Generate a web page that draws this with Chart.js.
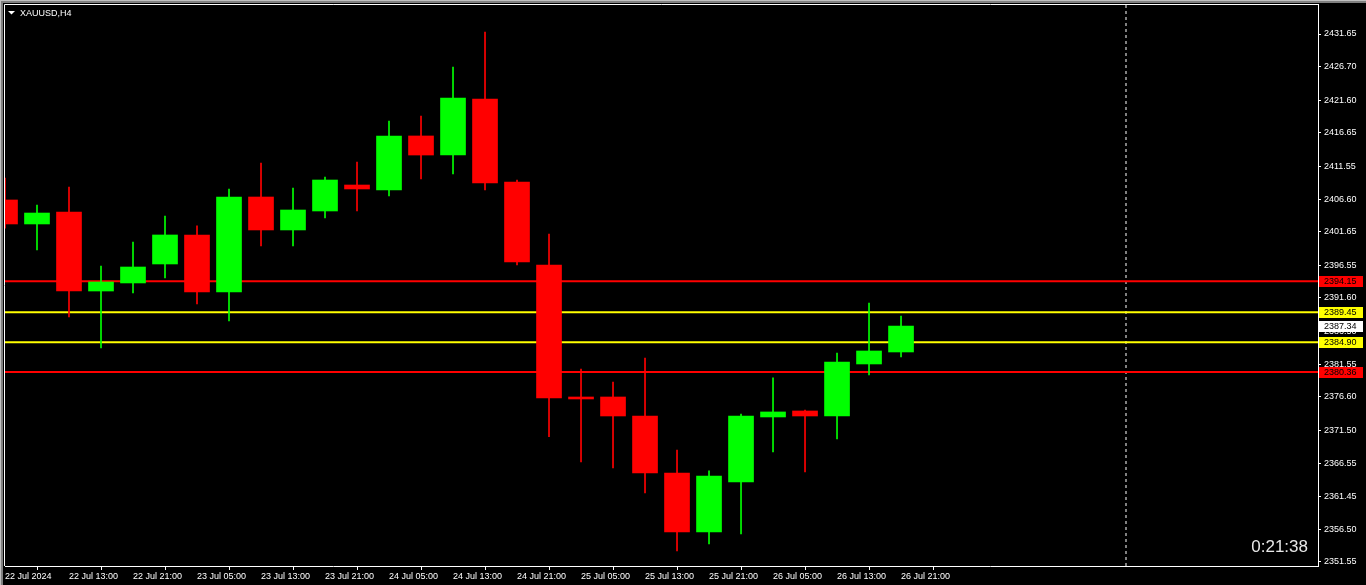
<!DOCTYPE html>
<html>
<head>
<meta charset="utf-8">
<script src="https://cdn.jsdelivr.net/npm/chart.js@4/dist/chart.umd.min.js"></script>
<style>
    html, body { margin: 0; padding: 0; background: #000; overflow: hidden; }
    canvas { display: block; }
</style>
</head>
<body>
<canvas id="grafico" width="1366" height="585"></canvas>
<script>
// =============================
// DADOS (XAUUSD H4)
// =============================

const abertura = [2406.47, 2402.83, 2404.65, 2392.66, 2393.88, 2396.76, 2401.16, 2392.51, 2406.92, 2401.92,
                  2404.80, 2408.74, 2407.99, 2416.18, 2413.29, 2421.79, 2409.20, 2396.61, 2376.58, 2376.58,
                  2373.70, 2365.05, 2356.10, 2363.69, 2373.55, 2374.46, 2373.70, 2381.59, 2383.41];
const maxima   = [2409.81, 2405.71, 2408.44, 2396.46, 2400.10, 2404.04, 2402.53, 2408.14, 2412.08, 2408.29,
                  2409.96, 2412.23, 2418.45, 2419.21, 2426.64, 2431.95, 2409.50, 2401.31, 2380.83, 2378.86,
                  2382.50, 2368.54, 2365.36, 2374.00, 2379.47, 2374.61, 2383.26, 2390.84, 2388.87];
const minima   = [2402.20, 2398.88, 2388.72, 2384.02, 2392.36, 2394.64, 2390.69, 2388.11, 2399.49, 2399.49,
                  2403.74, 2404.80, 2407.07, 2409.65, 2410.41, 2407.99, 2396.60, 2370.56, 2366.72, 2365.81,
                  2362.02, 2353.22, 2354.28, 2355.80, 2368.24, 2365.21, 2370.21, 2379.92, 2382.65];
const fechamento = [2402.83, 2404.49, 2392.66, 2394.03, 2396.30, 2401.16, 2392.51, 2406.92, 2401.92, 2404.95,
                  2409.50, 2408.14, 2416.18, 2413.29, 2421.94, 2409.05, 2397.06, 2376.43, 2376.28, 2373.70,
                  2365.05, 2356.10, 2364.60, 2373.70, 2374.31, 2373.70, 2381.89, 2383.56, 2387.34];

// rótulos do eixo de tempo (uma marca a cada 2 barras)
const rotulosTempo = ['22 Jul 2024', '22 Jul 13:00', '22 Jul 21:00', '23 Jul 05:00', '23 Jul 13:00',
                      '23 Jul 21:00', '24 Jul 05:00', '24 Jul 13:00', '24 Jul 21:00', '25 Jul 05:00',
                      '25 Jul 13:00', '25 Jul 21:00', '26 Jul 05:00', '26 Jul 13:00', '26 Jul 21:00'];
const posicoesTempo = [0, 2, 4, 6, 8, 10, 12, 14, 16, 18, 20, 22, 24, 26, 28];

// marcas do eixo de preço
const ticksPreco = [2431.65, 2426.70, 2421.60, 2416.65, 2411.55, 2406.60, 2401.65, 2396.55, 2391.60,
                    2386.50, 2381.55, 2376.60, 2371.50, 2366.55, 2361.45, 2356.50, 2351.55];

// níveis horizontais
const niveisVermelhos = [2394.15, 2380.36];
const niveisAmarelos  = [2389.45, 2384.90];
const precoAtual = 2387.34;
const linhaVertical = 35.03;

const Y_MIN = 2350.94;
const Y_MAX = 2436.05;
const X_MIN = 0;
const X_MAX = 41.03;

const VERDE = '#00ff00';
const VERMELHO = '#ff0000';
const AMARELO = '#ffff00';
const FONTE = "'Liberation Sans', Arial, sans-serif";


// =============================
// MONTAGEM DOS DATASETS
// =============================

const cores = abertura.map((o, i) => fechamento[i] >= o ? VERDE : VERMELHO);
const corpos = abertura.map((o, i) => ({ x: i, y: [o, fechamento[i]] }));
const pavios = minima.map((l, i) => ({ x: i, y: [l, maxima[i]] }));

function linhaHorizontal(valor, cor) {
    return {
        type: 'line',
        data: [{ x: X_MIN, y: valor }, { x: X_MAX, y: valor }],
        borderColor: cor,
        borderWidth: 2,
        pointRadius: 0,
        order: 5
    };
}

const datasets = [
    {
        type: 'bar',
        data: corpos,
        backgroundColor: cores,
        borderWidth: 0,
        barThickness: 25,
        grouped: false,
        order: 1
    },
    {
        type: 'bar',
        data: pavios,
        backgroundColor: cores,
        borderWidth: 0,
        barThickness: 1,
        grouped: false,
        order: 2
    },
    ...niveisVermelhos.map(v => linhaHorizontal(v, VERMELHO)),
    ...niveisAmarelos.map(v => linhaHorizontal(v, AMARELO)),
    {
        type: 'line',
        data: [{ x: linhaVertical, y: Y_MIN }, { x: linhaVertical, y: Y_MAX }],
        borderColor: '#ffffff',
        borderWidth: 1,
        borderDash: [3, 3],
        pointRadius: 0,
        order: 6
    }
];


// =============================
// PLUGIN: MOLDURA, TÍTULO, ETIQUETAS
// =============================

const etiquetas = [
    { valor: niveisVermelhos[0], fundo: VERMELHO },
    { valor: niveisAmarelos[0], fundo: AMARELO },
    { valor: precoAtual, fundo: '#ffffff' },
    { valor: niveisAmarelos[1], fundo: AMARELO },
    { valor: niveisVermelhos[1], fundo: VERMELHO }
];

const pluginMoldura = {
    id: 'moldura',
    beforeDraw(chart) {
        const ctx = chart.ctx;
        ctx.save();
        ctx.fillStyle = '#000';
        ctx.fillRect(0, 0, chart.width, chart.height);
        ctx.fillStyle = '#808080';
        ctx.fillRect(0, 0, chart.width, 3);
        ctx.fillRect(0, 0, 3, chart.height);
        ctx.fillStyle = '#c0c0c0';
        ctx.fillRect(0, 0, chart.width, 1);
        ctx.fillRect(0, 0, 1, chart.height);
        ctx.restore();
    },
    afterDraw(chart) {
        const { ctx, chartArea: a, scales: { y } } = chart;
        ctx.save();

        // moldura superior e esquerda
        ctx.strokeStyle = '#ffffff';
        ctx.lineWidth = 1;
        ctx.beginPath();
        ctx.moveTo(a.left - 0.5, a.bottom);
        ctx.lineTo(a.left - 0.5, a.top - 0.5);
        ctx.lineTo(a.right + 1, a.top - 0.5);
        ctx.stroke();

        // etiquetas de preço no eixo
        ctx.font = '9px ' + FONTE;
        ctx.textBaseline = 'middle';
        ctx.textAlign = 'left';
        etiquetas.forEach(et => {
            const py = Math.round(y.getPixelForValue(et.valor));
            ctx.fillStyle = et.fundo;
            ctx.fillRect(a.right + 1, py - 5, 44, 11);
            ctx.fillStyle = '#000';
            ctx.fillText(et.valor.toFixed(2), a.right + 6, py + 0.5);
        });

        // título
        ctx.fillStyle = '#ffffff';
        ctx.beginPath();
        ctx.moveTo(8, 11);
        ctx.lineTo(15, 11);
        ctx.lineTo(11.5, 14.5);
        ctx.closePath();
        ctx.fill();
        ctx.textBaseline = 'alphabetic';
        ctx.fillText('XAUUSD,H4', 20, 16);

        // cronômetro da barra
        ctx.font = '17px ' + FONTE;
        ctx.fillStyle = '#e8e8e8';
        ctx.textAlign = 'right';
        ctx.fillText('0:21:38', 1308, 552);

        ctx.restore();
    }
};

function semPadding(s) {
    s.paddingTop = 0;
    s.paddingBottom = 0;
    s.paddingLeft = 0;
    s.paddingRight = 0;
}


// =============================
// GRÁFICO
// =============================

new Chart(document.getElementById('grafico'), {
    type: 'bar',
    data: { datasets: datasets },
    options: {
        responsive: false,
        animation: false,
        events: [],
        layout: { padding: { top: 5, left: 5, right: 0, bottom: 0 } },
        plugins: {
            legend: { display: false },
            tooltip: { enabled: false }
        },
        scales: {
            x: {
                type: 'linear',
                position: 'bottom',
                min: X_MIN,
                max: X_MAX,
                offset: false,
                afterBuildTicks: s => { s.ticks = posicoesTempo.map(v => ({ value: v })); },
                afterFit: s => { s.height = 19; semPadding(s); },
                grid: { drawOnChartArea: false, color: '#ffffff', tickLength: 4 },
                border: { color: '#ffffff' },
                ticks: {
                    color: '#ffffff',
                    font: { family: FONTE, size: 9 },
                    align: 'start',
                    maxRotation: 0,
                    autoSkip: false,
                    padding: 1,
                    callback: v => rotulosTempo[posicoesTempo.indexOf(v)]
                }
            },
            y: {
                type: 'linear',
                position: 'right',
                min: Y_MIN,
                max: Y_MAX,
                afterBuildTicks: s => { s.ticks = ticksPreco.map(v => ({ value: v })); },
                afterFit: s => { s.width = 48; semPadding(s); },
                grid: { drawOnChartArea: false, color: '#ffffff', tickLength: 3 },
                border: { color: '#ffffff' },
                ticks: {
                    color: '#ffffff',
                    font: { family: FONTE, size: 9 },
                    autoSkip: false,
                    padding: 3,
                    callback: v => Number(v).toFixed(2)
                }
            }
        }
    },
    plugins: [pluginMoldura]
});
</script>
</body>
</html>
